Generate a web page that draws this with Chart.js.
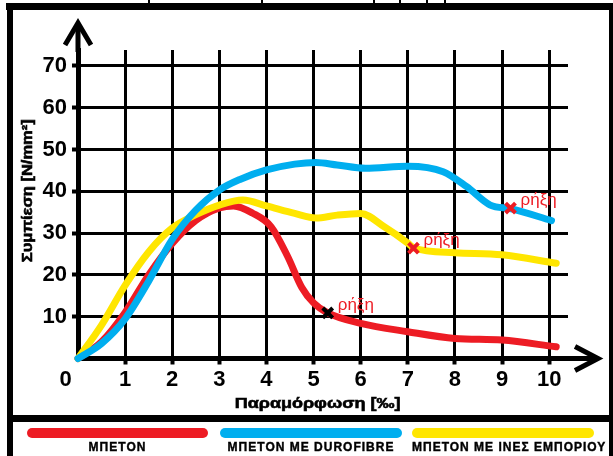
<!DOCTYPE html>
<html>
<head>
<meta charset="utf-8">
<script src="https://cdn.jsdelivr.net/npm/chart.js@4"></script>
<style>
  body { margin: 0; background: #fff; }
  #wrap { position: relative; width: 613px; height: 456px; overflow: hidden; background: #fff; }
  #grafica { position: absolute; left: 0; top: 0; }
  .blk { position: absolute; background: #000; }
  .swatch { position: absolute; top: 428px; height: 10px; border-radius: 5px; }
  .leyenda { position: absolute; top: 440px; line-height: 14px; text-align: center;
    font: bold 12px 'Liberation Sans', Arial, sans-serif; letter-spacing: 1px; color: #000; white-space: nowrap;
    -webkit-text-stroke: 0.4px #000; }
</style>
</head>
<body>
<div id="wrap">
  <canvas id="grafica" width="613" height="456"></canvas>
  <div class="blk" style="left:6px;top:3px;width:607px;height:7px"></div>
  <div class="blk" style="left:148px;top:0;width:2px;height:4px"></div>
  <div class="blk" style="left:261px;top:0;width:2px;height:4px"></div>
  <div class="blk" style="left:373px;top:0;width:2px;height:4px"></div>
  <div class="blk" style="left:399px;top:0;width:2px;height:4px"></div>
  <div class="blk" style="left:426px;top:0;width:2px;height:4px"></div>
  <div class="blk" style="left:444px;top:0;width:2px;height:4px"></div>
  <div class="blk" style="left:7px;top:3px;width:6px;height:453px"></div>
  <div class="blk" style="left:609px;top:3px;width:4px;height:453px"></div>
  <div class="blk" style="left:7px;top:415px;width:606px;height:7px"></div>
  <div id="legend"></div>
</div>
<script>
// datos
const nombres = ['ΜΠΕΤΟΝ', 'ΜΠΕΤΟΝ ΜΕ DUROFIBRE', 'ΜΠΕΤΟΝ ΜΕ ΙΝΕΣ ΕΜΠΟΡΙΟΥ']
const colores = ['#ED1C24', '#00AEEF', '#FFE600']

const xBeton = [0, 0.5, 1, 1.5, 2, 2.5, 3, 3.3, 3.7, 4.1, 4.45, 4.75, 5.0, 5.3, 6.0, 7.0, 8.0, 9.0, 10.15]
const yBeton = [0, 4, 11, 20, 27.5, 33, 36, 36.5, 34.8, 31.5, 24.4, 17, 13.3, 10.9, 8.4, 6.4, 4.8, 4.4, 2.8]

const xDuro = [0, 0.5, 1, 1.5, 2, 2.5, 3, 3.45, 4, 4.6, 5.05, 5.5, 6.1, 7.0, 7.75, 8.25, 8.75, 9.2, 10.05]
const yDuro = [0, 3.6, 9.5, 18.5, 28.5, 35.5, 40.3, 42.9, 45.1, 46.5, 46.9, 46.3, 45.5, 46, 44.7, 41.1, 36.7, 35.8, 33]

const xInes = [0, 0.5, 1, 1.5, 2, 2.5, 3, 3.5, 4, 4.6, 5.05, 5.5, 6.0, 6.5, 7.0, 7.12, 8.0, 9.0, 10.15]
const yInes = [0, 8, 17.5, 25.5, 31.2, 34.4, 36.7, 37.9, 36.5, 34.7, 33.6, 34.3, 34.7, 31.5, 27.6, 26.5, 25.3, 24.8, 22.8]

const rotX = [5.3, 7.12, 9.18]
const rotY = [10.9, 26.4, 36.0]
const rotColor = ['#000000', '#ED1C24', '#ED1C24']
const rotTexto = 'ρήξη'

const xTicks = [1, 2, 3, 4, 5, 6, 7, 8, 9, 10]
const yTicks = [10, 20, 30, 40, 50, 60, 70]
const tituloX = 'Παραμόρφωση [‰]'
const tituloY = 'Συμπίεση [N/mm²]'

const fuente = "'Liberation Sans', Arial, sans-serif"

const puntos = (xs, ys) => xs.map((x, i) => ({ x: x, y: ys[i] }))

// leyenda en html
let template = ''
const posLeyenda = [[27, 181], [220, 182], [412, 182]]
nombres.forEach((n, i) => {
  const p = posLeyenda[i]
  template += `<div class="swatch" style="left:${p[0]}px;width:${p[1]}px;background:${colores[i]}"></div>
  <div class="leyenda" style="left:${p[0]}px;width:${p[1]}px">${n}</div>`
})
document.getElementById('legend').innerHTML = template

// texto ancho y grueso como en el original
const textoAncho = (ctx, txt, x, y, ancho) => {
  ctx.save()
  ctx.translate(x, y)
  ctx.scale(ancho, 1)
  ctx.lineWidth = 0.6
  ctx.strokeStyle = '#000'
  ctx.fillText(txt, 0, 0)
  ctx.strokeText(txt, 0, 0)
  ctx.restore()
}

const extras = {
  id: 'extras',
  afterDraw(chart) {
    const ctx = chart.ctx
    const a = chart.chartArea
    const sx = chart.scales.x
    const sy = chart.scales.y
    ctx.save()
    // flechas de los ejes
    ctx.strokeStyle = '#000'
    ctx.lineWidth = 5
    ctx.lineJoin = 'miter'
    ctx.beginPath()
    ctx.moveTo(a.left, a.top + 2)
    ctx.lineTo(a.left, a.top - 25)
    ctx.moveTo(a.right - 2, a.bottom)
    ctx.lineTo(a.right + 28, a.bottom)
    ctx.stroke()
    ctx.beginPath()
    ctx.moveTo(a.left - 13, a.top - 5)
    ctx.lineTo(a.left, a.top - 27)
    ctx.lineTo(a.left + 13, a.top - 5)
    ctx.moveTo(a.right + 7, a.bottom - 12)
    ctx.lineTo(a.right + 30, a.bottom)
    ctx.lineTo(a.right + 7, a.bottom + 12)
    ctx.stroke()

    // cero del origen
    ctx.fillStyle = '#000'
    ctx.font = 'bold 22px ' + fuente
    ctx.textAlign = 'center'
    ctx.textBaseline = 'middle'
    ctx.fillText('0', a.left - 12.5, a.bottom + 21)

    // titulos
    ctx.font = 'bold 15px ' + fuente
    textoAncho(ctx, tituloX, sx.getPixelForValue(5) + 4, a.bottom + 45, 1.2)
    ctx.save()
    ctx.translate(a.left - 50, (a.top - 27 + a.bottom) / 2)
    ctx.rotate(-Math.PI / 2)
    textoAncho(ctx, tituloY, 0, 0, 1.1)
    ctx.restore()

    // etiquetas de rotura
    ctx.fillStyle = '#ED1C24'
    ctx.font = '17px ' + fuente
    ctx.textAlign = 'left'
    rotX.forEach((x, i) => {
      ctx.fillText(rotTexto, sx.getPixelForValue(x) + 10, sy.getPixelForValue(rotY[i]) - 8)
    })
    ctx.restore()
  }
}

const linea = (label, xs, ys, color) => ({
  label: label,
  data: puntos(xs, ys),
  borderColor: color,
  backgroundColor: color,
  borderWidth: 7,
  borderCapStyle: 'round',
  borderJoinStyle: 'round',
  pointRadius: 0,
  cubicInterpolationMode: 'monotone',
  showLine: true,
  fill: false,
  clip: false
})

const config = {
  type: 'scatter',
  data: {
    datasets: [
      {
        label: rotTexto,
        data: puntos(rotX, rotY),
        pointStyle: 'crossRot',
        pointRadius: 7,
        pointBorderWidth: 4,
        pointBorderColor: rotColor,
        pointBackgroundColor: rotColor,
        showLine: false,
        clip: false
      },
      linea(nombres[1], xDuro, yDuro, colores[1]),
      linea(nombres[2], xInes, yInes, colores[2]),
      linea(nombres[0], xBeton, yBeton, colores[0])
    ]
  },
  options: {
    responsive: false,
    animation: false,
    devicePixelRatio: 1,
    layout: { padding: { left: 13, top: 50, right: 45, bottom: 0 } },
    plugins: { legend: { display: false }, tooltip: { enabled: false } },
    scales: {
      x: {
        type: 'linear',
        min: 0,
        max: 10.4,
        afterBuildTicks: (s) => { s.ticks = xTicks.map(v => ({ value: v })) },
        afterFit: (s) => { s.height = 97.5 },
        ticks: {
          color: '#000',
          padding: 2,
          font: { family: fuente, size: 22, weight: 'bold' },
          maxRotation: 0
        },
        grid: { color: '#000', lineWidth: 3, tickLength: 6, tickWidth: 4, tickColor: '#000' },
        border: { color: '#000', width: 5 }
      },
      y: {
        type: 'linear',
        min: 0,
        max: 73.8,
        afterBuildTicks: (s) => { s.ticks = yTicks.map(v => ({ value: v })) },
        afterFit: (s) => { s.width = 65 },
        ticks: {
          color: '#000',
          padding: 5,
          font: { family: fuente, size: 22, weight: 'bold' }
        },
        grid: { color: '#000', lineWidth: 3, tickLength: 6, tickWidth: 4, tickColor: '#000' },
        border: { color: '#000', width: 5 }
      }
    }
  },
  plugins: [extras]
}

new Chart(document.getElementById('grafica'), config)
</script>
</body>
</html>
